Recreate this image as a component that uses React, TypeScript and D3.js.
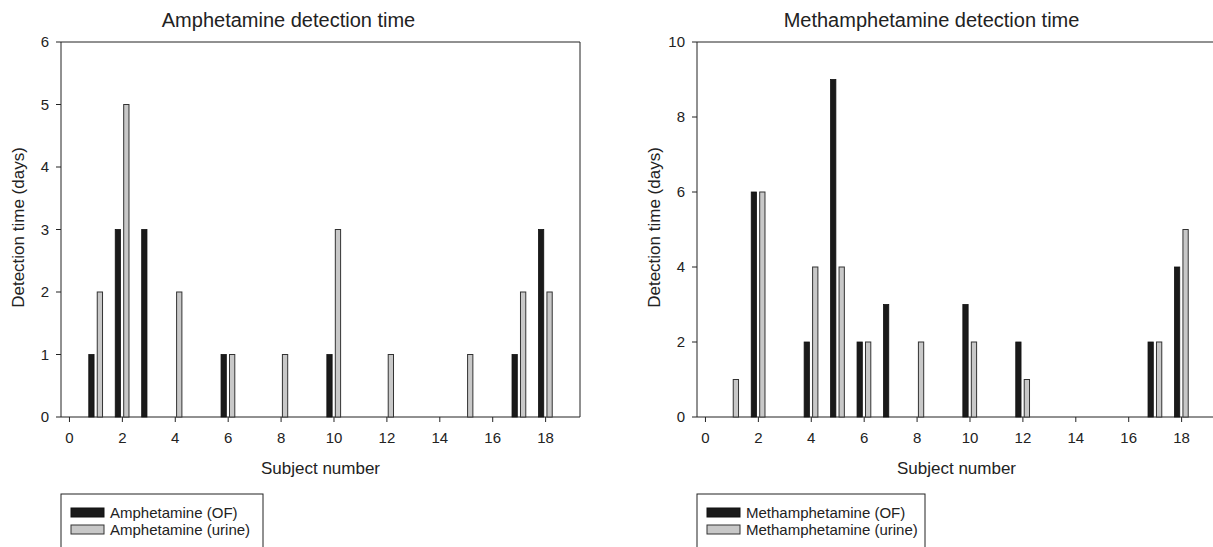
import React from 'react';
import * as d3 from 'd3';

const subjects = [1, 2, 3, 4, 5, 6, 7, 8, 10, 12, 15, 17, 18];

// amphetamine (left panel), 0 = no bar
const amphOF = [1, 3, 3, 0, 0, 1, 0, 0, 1, 0, 0, 1, 3];
const amphUrine = [2, 5, 0, 2, 0, 1, 0, 1, 3, 1, 1, 2, 2];

// methamphetamine (right panel)
const methOF = [0, 6, 0, 2, 9, 2, 3, 0, 3, 2, 0, 2, 4];
const methUrine = [1, 6, 0, 4, 4, 2, 0, 2, 2, 1, 0, 2, 5];

const xTicks = [0, 2, 4, 6, 8, 10, 12, 14, 16, 18];
const amphYTicks = [0, 1, 2, 3, 4, 5, 6];
const methYTicks = [0, 2, 4, 6, 8, 10];

const font = 'Liberation Sans, Arial, sans-serif';

interface PanelProps {
  left: number;
  right: number;
  title: string;
  drug: string;
  of: number[];
  urine: number[];
  yMax: number;
  yTicks: number[];
  titleShift: number;
  yTitleGap: number;
  legendW: number;
}

const Panel = ({ left, right, title, drug, of, urine, yMax, yTicks, titleShift, yTitleGap, legendW }: PanelProps) => {
  const top = 42;
  const bottom = 417;
  const x = d3.scaleLinear().domain([-0.32, 19.3]).range([left, right]);
  const y = d3.scaleLinear().domain([0, yMax]).range([bottom, top]);
  const bw = x(0.2) - x(0);
  const mid = (left + right) / 2;

  return (
    <g>
      <text x={mid + titleShift} y={27} textAnchor="middle" fontSize={20} fill="#222">
        {title}
      </text>
      {/* frame */}
      <line x1={left} x2={left} y1={top} y2={bottom} stroke="#222" />
      <line x1={left} x2={right} y1={top} y2={top} stroke="#222" />
      <line x1={right} x2={right} y1={top} y2={bottom} stroke="#222" />
      <line x1={left} x2={right} y1={bottom} y2={bottom} stroke="#222" />

      {yTicks.map((t) => (
        <g key={t}>
          <line x1={left - 5} x2={left} y1={y(t)} y2={y(t)} stroke="#222" />
          <text x={left - 12} y={y(t)} dy="0.35em" textAnchor="end" fontSize={15} fill="#222">
            {t}
          </text>
        </g>
      ))}
      {xTicks.map((t) => (
        <g key={t}>
          <line x1={x(t)} x2={x(t)} y1={bottom} y2={bottom + 5} stroke="#222" />
          <text x={x(t)} y={443} textAnchor="middle" fontSize={15} fill="#222">
            {t}
          </text>
        </g>
      ))}
      <text x={mid} y={474} textAnchor="middle" fontSize={17} fill="#222">
        Subject number
      </text>
      <text
        transform={`translate(${left - yTitleGap},${(top + bottom) / 2 - 2}) rotate(-90)`}
        textAnchor="middle"
        fontSize={17}
        fill="#222"
      >
        Detection time (days)
      </text>

      {subjects.map((s, i) => (
        <g key={s}>
          {of[i] > 0 && (
            <rect
              x={x(s - 0.27)}
              y={y(of[i])}
              width={bw}
              height={bottom - y(of[i])}
              fill="#1a1a1a"
              stroke="#111"
              strokeWidth={0.8}
            />
          )}
          {urine[i] > 0 && (
            <rect
              x={x(s + 0.05)}
              y={y(urine[i])}
              width={bw}
              height={bottom - y(urine[i])}
              fill="#c8c8c8"
              stroke="#333"
              strokeWidth={1}
            />
          )}
        </g>
      ))}

      {/* legend */}
      <rect x={left} y={494} width={legendW} height={70} fill="#fff" stroke="#222" />
      <rect x={left + 10} y={508} width={33} height={9} fill="#1a1a1a" stroke="#111" />
      <rect x={left + 10} y={525} width={33} height={9} fill="#c8c8c8" stroke="#333" />
      <text x={left + 49} y={518} fontSize={15} fill="#222">
        {drug} (OF)
      </text>
      <text x={left + 49} y={535} fontSize={15} fill="#222">
        {drug} (urine)
      </text>
    </g>
  );
};

export default function App() {
  return (
    <div style={{ position: 'absolute', left: 0, top: 0 }}>
      <svg width={1213} height={547} style={{ display: 'block', background: '#fff', fontFamily: font }}>
        <Panel left={61} right={580} title="Amphetamine detection time" drug="Amphetamine" of={amphOF} urine={amphUrine} yMax={6} yTicks={amphYTicks} titleShift={-32} yTitleGap={37} legendW={202} />
        <Panel left={697} right={1216} title="Methamphetamine detection time" drug="Methamphetamine" of={methOF} urine={methUrine} yMax={10} yTicks={methYTicks} titleShift={-25} yTitleGap={37} legendW={228} />
      </svg>
    </div>
  );
}
